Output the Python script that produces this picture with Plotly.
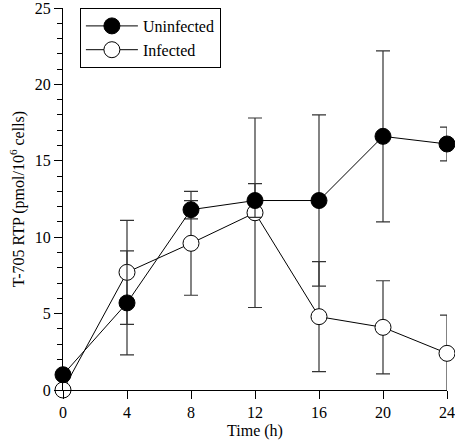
import plotly.graph_objects as go

time_h = [0, 4, 8, 12, 16, 20, 24]
uninfected = [1.0, 5.7, 11.8, 12.4, 12.4, 16.6, 16.1]
uninfected_err = [0.0, 3.4, 0.6, 1.1, 5.6, 5.6, 1.1]
infected = [0.0, 7.7, 9.6, 11.6, 4.8, 4.1, 2.4]
infected_err = [0.0, 3.4, 3.4, 6.2, 3.6, 3.05, 2.5]

font_family = "Liberation Serif"
fig = go.Figure()

fig.add_trace(go.Scatter(
    x=time_h, y=infected, name="Infected", mode="lines+markers",
    line=dict(color="black", width=1),
    marker=dict(symbol="circle", size=16, color="white", line=dict(color="black", width=1)),
    error_y=dict(type="data", array=infected_err, visible=True, color="#333333", thickness=1.2, width=7),
    cliponaxis=False,
))
fig.add_trace(go.Scatter(
    x=time_h, y=uninfected, name="Uninfected", mode="lines+markers",
    line=dict(color="black", width=1),
    marker=dict(symbol="circle", size=16, color="black", line=dict(color="black", width=1)),
    error_y=dict(type="data", array=uninfected_err, visible=True, color="#333333", thickness=1.2, width=7),
    cliponaxis=False,
))

fig.update_layout(
    width=455, height=444,
    margin=dict(l=63, r=8, t=8, b=54, autoexpand=False),
    plot_bgcolor="white", paper_bgcolor="white",
    font=dict(family=font_family, size=16, color="black"),
    showlegend=True,
    legend=dict(
        x=0.044, y=1.0, xanchor="left", yanchor="top",
        traceorder="reversed", itemwidth=52,
        bordercolor="black", borderwidth=1, bgcolor="white",
        font=dict(family=font_family, size=16),
    ),
    xaxis=dict(
        range=[0, 24], tickvals=[0, 4, 8, 12, 16, 20, 24],
        ticks="outside", ticklen=8, tickcolor="black",
        showline=True, linecolor="black", linewidth=1.2,
        showgrid=False, zeroline=False, automargin=False,
        ticklabeloverflow="allow",
        title=dict(text="Time (h)", standoff=4, font=dict(family=font_family, size=16)),
        tickfont=dict(family=font_family, size=16),
    ),
    yaxis=dict(
        range=[0, 25], tickvals=[0, 5, 10, 15, 20, 25],
        ticks="outside", ticklen=8, tickcolor="black",
        minor=dict(dtick=1, ticks="outside", ticklen=5, tickcolor="black", showgrid=False),
        showline=True, linecolor="black", linewidth=1.2,
        showgrid=False, zeroline=False, automargin=False,
        ticklabeloverflow="allow",
        title=dict(text="T-705 RTP (pmol/10<sup>6</sup> cells)", standoff=6, font=dict(family=font_family, size=16)),
        tickfont=dict(family=font_family, size=16),
    ),
)

fig.write_html(
    "out.html",
    config={"displayModeBar": False},
    post_script="document.body.style.margin='0';document.body.style.padding='0';",
)
